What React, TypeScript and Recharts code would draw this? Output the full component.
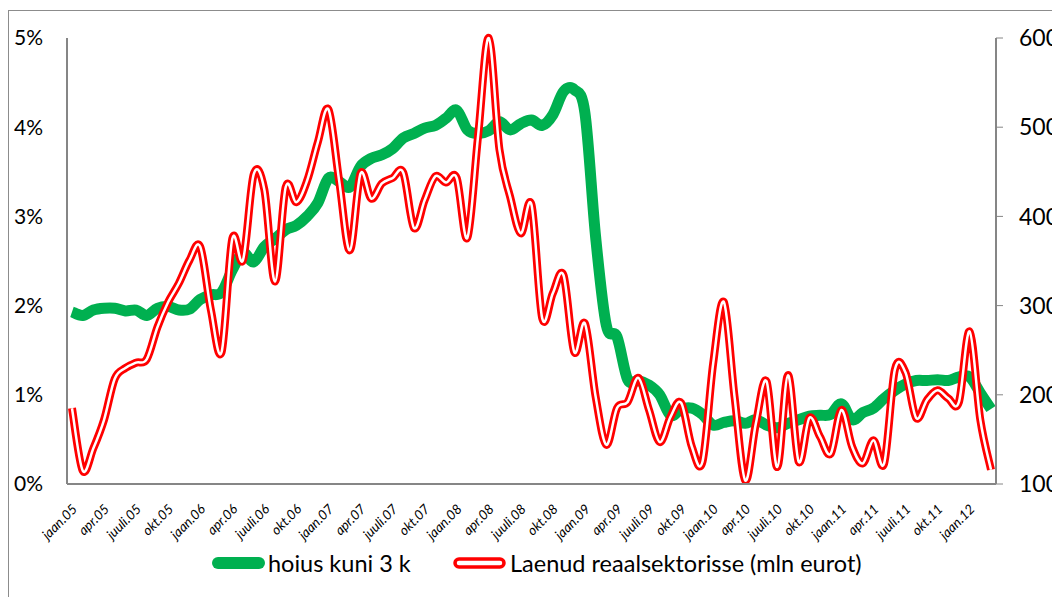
import { LineChart, Line, XAxis, YAxis } from 'recharts';

// kuu nimed ja aastad kategooriate jaoks
const monthNames = ['jaan', 'veebr', 'märts', 'apr', 'mai', 'juuni', 'juuli', 'aug', 'sept', 'okt', 'nov', 'dets'];
const years = ['05', '06', '07', '08', '09', '10', '11', '12'];
const monthCount = 87; // jaan.05 ... märts.12

// hoius kuni 3 k (%)
const depositRate = [
  1.93, 1.89, 1.95, 1.97, 1.97, 1.94, 1.95, 1.89, 1.97, 1.99, 1.95, 1.96,
  2.07, 2.12, 2.15, 2.40, 2.59, 2.49, 2.66, 2.75, 2.85, 2.90, 3.00, 3.15,
  3.43, 3.39, 3.33, 3.56, 3.65, 3.69, 3.76, 3.88, 3.93, 3.99, 4.02, 4.10,
  4.19, 3.97, 3.93, 3.96, 4.06, 3.97, 4.04, 4.08, 4.02, 4.14, 4.40, 4.42,
  4.16, 2.77, 1.78, 1.65, 1.17, 1.16, 1.11, 1.00, 0.77, 0.84, 0.85, 0.78,
  0.66, 0.69, 0.71, 0.68, 0.72, 0.66, 0.63, 0.68, 0.72, 0.76, 0.77, 0.78,
  0.90, 0.72, 0.80, 0.85, 0.96, 1.05, 1.12, 1.16, 1.16, 1.17, 1.16, 1.20,
  1.20, 1.02, 0.84,
];

// Laenud reaalsektorisse (mln eurot)
const loans = [
  185, 115, 140, 172, 218, 230, 236, 240, 276, 304, 325, 351,
  366, 295, 248, 375, 351, 447, 430, 327, 433, 416, 440, 483,
  520, 440, 362, 448, 420, 437, 443, 449, 387, 418, 445, 438,
  443, 376, 490, 600, 475, 422, 381, 413, 286, 314, 334, 248,
  280, 198, 144, 185, 192, 219, 183, 147, 175, 191, 142, 125,
  235, 304, 198, 104, 168, 215, 119, 222, 125, 174, 153, 134,
  183, 142, 123, 149, 123, 228, 225, 174, 194, 205, 196, 192,
  271, 172, 116,
];

const leftTicks = [0, 1, 2, 3, 4, 5];
const rightTicks = [100, 200, 300, 400, 500, 600];

const categories: string[] = [];
for (const y of years) {
  for (const m of monthNames) {
    if (categories.length < monthCount) categories.push(`${m}.${y}`);
  }
}

const data = categories.map((month, i) => ({
  month,
  deposit: depositRate[i],
  loans: loans[i],
}));

const FONT = 'Lato, "Noto Sans", sans-serif';
const AXIS = '#868686';
const GREEN = '#00B050';
const RED = '#FF0000';

// Exceli "silutud joon" – Catmull-Rom Bezier
function smoothCurve(context: any) {
  let pts: number[][] = [];
  return {
    areaStart() {},
    areaEnd() {},
    lineStart() {
      pts = [];
    },
    lineEnd() {
      if (!pts.length) return;
      context.moveTo(pts[0][0], pts[0][1]);
      for (let i = 0; i < pts.length - 1; i++) {
        const p0 = pts[i - 1] || pts[i];
        const p1 = pts[i];
        const p2 = pts[i + 1];
        const p3 = pts[i + 2] || p2;
        context.bezierCurveTo(
          p1[0] + (p2[0] - p0[0]) / 6,
          p1[1] + (p2[1] - p0[1]) / 6,
          p2[0] - (p3[0] - p1[0]) / 6,
          p2[1] - (p3[1] - p1[1]) / 6,
          p2[0],
          p2[1]
        );
      }
    },
    point(x: number, y: number) {
      pts.push([+x, +y]);
    },
  };
}

const MonthTick = ({ x, y, payload }: any) => {
  const ax = x + 6;
  const ay = y + 24;
  return (
    <text
      x={ax}
      y={ay}
      transform={`rotate(-45 ${ax} ${ay})`}
      textAnchor="end"
      fontSize={13.5}
      fontStyle="italic"
      fontFamily={FONT}
      fill="#000"
    >
      {payload.value}
    </text>
  );
};

function ChartLegend() {
  return (
    <svg
      width={900}
      height={30}
      style={{ position: 'absolute', left: 0, top: 537 }}
      fontFamily={FONT}
    >
      <line x1={209} y1={15} x2={250} y2={15} stroke={GREEN} strokeWidth={12} strokeLinecap="round" />
      <text x={259} y={15} dominantBaseline="central" fontSize={23.5} fill="#000">
        hoius kuni 3 k
      </text>
      <rect x={446} y={11} width={49} height={8} rx={4} fill="#fff" stroke={RED} strokeWidth={3.5} />
      <text x={501} y={15} dominantBaseline="central" fontSize={23.5} fill="#000">
        Laenud reaalsektorisse (mln eurot)
      </text>
    </svg>
  );
}

export default function App() {
  return (
    <div style={{ width: 1052, height: 597, overflow: 'hidden', position: 'relative' }}>
      <style>{'body { margin: 0; }'}</style>
      <div
        style={{
          position: 'absolute',
          left: 8,
          top: 10,
          width: 1100,
          height: 640,
          border: '1px solid #8c8c8c',
          background: '#fff',
        }}
      >
        <LineChart
          width={1080}
          height={600}
          data={data}
          margin={{ top: 27, right: 33, left: 0, bottom: 67 }}
        >
          <XAxis
            dataKey="month"
            interval={2}
            padding={{ left: 5, right: 5 }}
            tickLine={false}
            tickSize={0}
            axisLine={{ stroke: AXIS, strokeWidth: 2 }}
            tick={<MonthTick />}
            height={60}
          />
          <YAxis
            yAxisId="left"
            domain={[0, 5]}
            ticks={leftTicks}
            tickFormatter={(v) => `${v}%`}
            width={58}
            tickLine={false}
            tickSize={0}
            tickMargin={24}
            axisLine={{ stroke: AXIS, strokeWidth: 2 }}
            tick={{ fill: '#000', fontSize: 21, fontFamily: FONT }}
          />
          <YAxis
            yAxisId="right"
            orientation="right"
            domain={[100, 600]}
            ticks={rightTicks}
            width={60}
            tickSize={7}
            tickMargin={16}
            tickLine={{ stroke: AXIS, strokeWidth: 1 }}
            axisLine={{ stroke: AXIS, strokeWidth: 2 }}
            tick={{ fill: '#000', fontSize: 23, fontFamily: FONT, textAnchor: 'start' }}
          />
          <Line
            yAxisId="left"
            dataKey="deposit"
            type={smoothCurve as any}
            stroke={GREEN}
            strokeWidth={11}
            dot={false}
            strokeLinejoin="round"
            isAnimationActive={false}
          />
          <Line
            yAxisId="right"
            dataKey="loans"
            type={smoothCurve as any}
            stroke={RED}
            strokeWidth={8}
            dot={false}
            strokeLinejoin="round"
            isAnimationActive={false}
          />
          <Line
            yAxisId="right"
            dataKey="loans"
            type={smoothCurve as any}
            stroke="#fff"
            strokeWidth={2.5}
            dot={false}
            strokeLinejoin="round"
            isAnimationActive={false}
          />
        </LineChart>
        <ChartLegend />
      </div>
    </div>
  );
}
